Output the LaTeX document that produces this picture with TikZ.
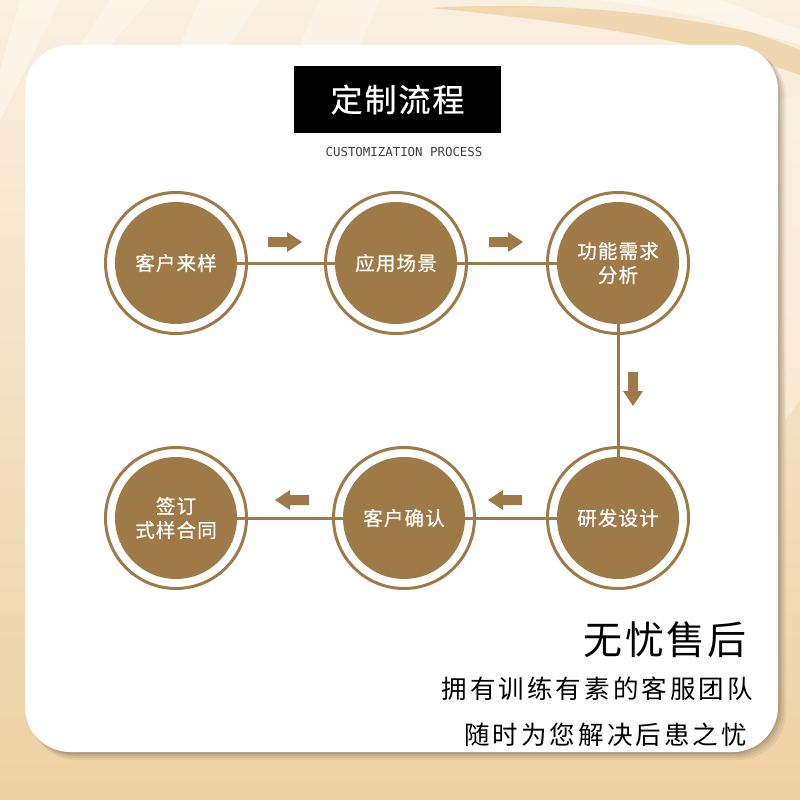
\documentclass[tikz,border=0pt]{standalone}
\usepackage{fontspec}
\setmainfont{Noto Sans CJK SC}
\newfontfamily\cjk{Noto Sans CJK SC}
\newfontfamily\cjkwide[LetterSpace=12]{Noto Sans CJK SC}
\newfontfamily\cjkmid[LetterSpace=6,FakeBold=0.6]{Noto Sans CJK SC}
\newfontfamily\cjkbig[LetterSpace=6]{Noto Sans CJK SC}
\newfontfamily\monofnt{DejaVu Sans Mono}
\usetikzlibrary{shadings}
\definecolor{brn}{RGB}{158,122,72}
\definecolor{bgtop}{RGB}{250,240,224}
\definecolor{bgbot}{RGB}{238,208,162}
\definecolor{streak}{RGB}{255,250,240}
\definecolor{band}{RGB}{236,206,160}
\pgfdeclarelayer{bgzero}
\pgfdeclarelayer{background}
\pgfsetlayers{bgzero,background,main}
\tikzset{
  stage/.style={circle, fill=brn, minimum size=122pt, inner sep=0pt, text=white,
    font=\cjkmid\fontsize{19.5}{24}\selectfont, align=center},
  ring/.style={draw=brn, line width=3pt, fill=white},
  link/.style={draw=brn, line width=3pt},
  fatarrow/.pic={\fill[brn] (0,-5) -- (19,-5) -- (19,-10) -- (34,0) -- (19,10) -- (19,5) -- (0,5) -- cycle;}
}
\begin{document}
\begin{tikzpicture}[x=1pt,y=-1pt]
\useasboundingbox (0,0) rectangle (800,800);
\begin{pgfonlayer}{bgzero}
  \shade[top color=bgtop, bottom color=bgbot] (0,0) rectangle (800,800);
  % light streaks
  \fill[streak, opacity=0.55] (20,0) -- (60,0) -- (0,120) -- (0,70) -- cycle;
  \fill[streak, opacity=0.5] (110,0) -- (150,0) -- (110,45) -- (80,45) -- cycle;
  \fill[streak, opacity=0.5] (200,0) -- (260,0) -- (230,45) -- (180,45) -- cycle;
  \fill[streak, opacity=0.45] (320,0) -- (380,0) -- (360,45) -- (300,45) -- cycle;
  \fill[band, opacity=0.7] (430,8) .. controls (560,0) and (700,15) .. (800,45) -- (800,75) .. controls (700,40) and (560,20) .. (430,8) -- cycle;
  \fill[streak, opacity=0.6] (600,0) -- (720,0) -- (800,30) -- (800,50) .. controls (740,25) and (680,10) .. (600,0) -- cycle;
  \fill[streak, opacity=0.4] (780,100) -- (800,95) -- (800,400) -- (785,420) -- cycle;
  % card shadow
  \foreach \o/\a in {8/0.05,6/0.06,4/0.08,2/0.1}{
    \fill[black, opacity=\a, rounded corners=48pt] (25+\o/2,45+\o/2) rectangle (778+\o,752+\o);
  }
  \fill[white, rounded corners=45pt] (25,45) rectangle (778,752);
\end{pgfonlayer}

% title
\node[fill=black, minimum width=207pt, minimum height=67pt, inner sep=0pt, text=white,
  font=\cjkmid\fontsize{32}{36}\selectfont] (title) at (397.5,99.5) {定制流程};
\node[text=black!75, font=\monofnt\fontsize{12.4}{14}\selectfont, inner sep=0pt] (sub) at (404,152) {CUSTOMIZATION PROCESS};

% stages
\node[stage] (c1) at (176,263) {客户来样};
\node[stage] (c2) at (396,263) {应用场景};
\node[stage] (c3) at (618,263) {功能需求\\分析};
\node[stage] (c4) at (618,518) {研发设计};
\node[stage] (c5) at (404,518) {客户确认};
\node[stage] (c6) at (176,518) {签订\\式样合同};

\begin{pgfonlayer}{background}
  \foreach \n in {c1,c2,c3,c4,c5,c6}{
    \draw[ring] (\n.center) circle (70.5);
  }
  \draw[link] (c1) -- (c2);
  \draw[link] (c2) -- (c3);
  \draw[link] (c3) -- (c4);
  \draw[link] (c4) -- (c5);
  \draw[link] (c5) -- (c6);
\end{pgfonlayer}

% arrows
\pic at (268,242) {fatarrow};
\pic at (489,242) {fatarrow};
\pic[rotate=-90] at (633,372) {fatarrow};
\pic[rotate=180] at (522,500) {fatarrow};
\pic[rotate=180] at (309,500) {fatarrow};

% after-sales text
\node[anchor=east, inner sep=0pt, font=\cjkbig\fontsize{39}{44}\selectfont] (t1) at (747,640) {无忧售后};
\node[anchor=east, inner sep=0pt, font=\cjkwide\fontsize{25.5}{30}\selectfont] (t2) at (753,689) {拥有训练有素的客服团队};
\node[anchor=east, inner sep=0pt, font=\cjkwide\fontsize{25.5}{30}\selectfont] (t3) at (747,735) {随时为您解决后患之忧};
\end{tikzpicture}
\end{document}
